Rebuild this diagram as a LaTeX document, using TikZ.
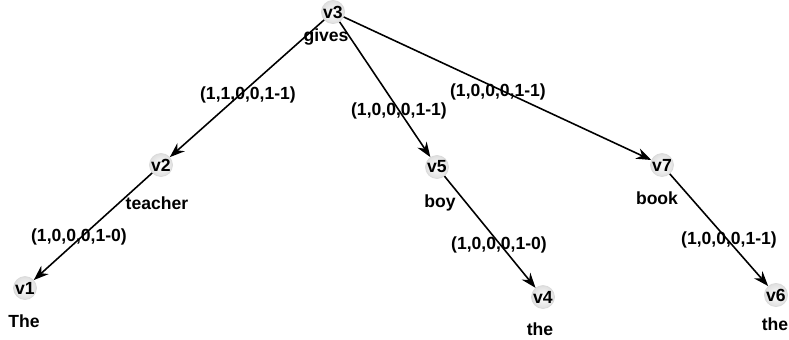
\documentclass[tikz,border=0pt]{standalone}
\usepackage{fontspec}
\setmainfont{Liberation Sans}
\usetikzlibrary{arrows.meta}
\definecolor{ballrim}{HTML}{DADADA}
\tikzset{
  vertex/.style={circle,minimum size=0.46cm,inner sep=0pt,draw=ballrim,line width=0.4pt,inner color=white,outer color=gray!25,font=\fontsize{10}{12}\selectfont\bfseries},
  word/.style={font=\fontsize{10}{12}\selectfont\bfseries,inner sep=1pt},
  weight/.style={font=\fontsize{10}{12}\selectfont\bfseries,inner sep=1pt},
  link/.style={-{Stealth[length=3mm,width=2.2mm]},line width=0.9pt,black}
}
\begin{document}
\begin{tikzpicture}[x=0.02cm,y=-0.02cm]
  \useasboundingbox (0,0) rectangle (789,339);
  % vertices
  \node[vertex] (v3) at (333,12) {v3};
  \node[vertex] (v2) at (161,165) {v2};
  \node[vertex] (v1) at (25,288) {v1};
  \node[vertex] (v5) at (437,167) {v5};
  \node[vertex] (v4) at (543,297) {v4};
  \node[vertex] (v7) at (662,165) {v7};
  \node[vertex] (v6) at (776,295) {v6};
  % words
  \node[word] (gives) at (326,37) {gives};
  \node[word] (teacher) at (157,203) {teacher};
  \node[word] (the1) at (24,321) {The};
  \node[word] (boy) at (440,203) {boy};
  \node[word] (the2) at (540,329) {the};
  \node[word] (book) at (657,198) {book};
  \node[word] (the3) at (775,324) {the};
  % links
  \draw[link] (v3) -- (v2);
  \draw[link] (v3) -- (v5);
  \draw[link] (v3) -- (v7);
  \draw[link] (v2) -- (v1);
  \draw[link] (v5) -- (v4);
  \draw[link] (v7) -- (v6);
  % weights
  \node[weight] (w32) at (248,95) {(1,1,0,0,1-1)};
  \node[weight] (w35) at (399,111) {(1,0,0,0,1-1)};
  \node[weight] (w37) at (498,92) {(1,0,0,0,1-1)};
  \node[weight] (w21) at (79,237) {(1,0,0,0,1-0)};
  \node[weight] (w54) at (499,245) {(1,0,0,0,1-0)};
  \node[weight] (w76) at (729,240) {(1,0,0,0,1-1)};
\end{tikzpicture}
\end{document}
